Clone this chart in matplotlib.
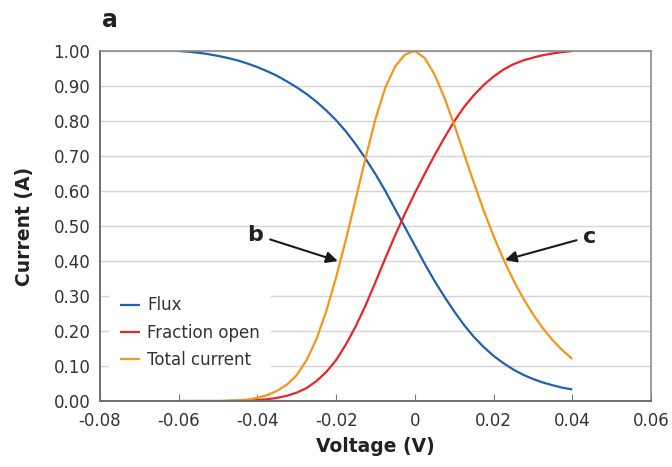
import matplotlib.pyplot as plt

# voltage grid (V) and the three curves
voltage = [-0.0600, -0.0575, -0.0550, -0.0525, -0.0500, -0.0475, -0.0450, -0.0425,
           -0.0400, -0.0375, -0.0350, -0.0325, -0.0300, -0.0275, -0.0250, -0.0225,
           -0.0200, -0.0175, -0.0150, -0.0125, -0.0100, -0.0075, -0.0050, -0.0025,
           0.0000, 0.0025, 0.0050, 0.0075, 0.0100, 0.0125, 0.0150, 0.0175,
           0.0200, 0.0225, 0.0250, 0.0275, 0.0300, 0.0325, 0.0350, 0.0375, 0.0400]

flux = [1.000, 0.998, 0.995, 0.991, 0.986, 0.980, 0.973, 0.964,
        0.954, 0.942, 0.929, 0.913, 0.896, 0.877, 0.855, 0.830,
        0.802, 0.770, 0.733, 0.692, 0.648, 0.600, 0.548, 0.496,
        0.444, 0.392, 0.343, 0.298, 0.256, 0.217, 0.183, 0.154,
        0.129, 0.108, 0.090, 0.075, 0.063, 0.053, 0.045, 0.038, 0.033]

fraction_open = [0.000, 0.000, 0.000, 0.000, 0.000, 0.000, 0.001, 0.001,
                 0.003, 0.005, 0.009, 0.015, 0.024, 0.037, 0.057, 0.083,
                 0.117, 0.162, 0.214, 0.274, 0.340, 0.408, 0.474, 0.536,
                 0.594, 0.649, 0.702, 0.752, 0.799, 0.840, 0.874, 0.903,
                 0.927, 0.947, 0.962, 0.973, 0.981, 0.988, 0.993, 0.997, 1.000]

total_current = [0.000, 0.000, 0.000, 0.000, 0.000, 0.001, 0.002, 0.004,
                 0.009, 0.017, 0.029, 0.047, 0.074, 0.117, 0.177, 0.257,
                 0.354, 0.462, 0.578, 0.696, 0.806, 0.896, 0.956, 0.990,
                 1.000, 0.980, 0.933, 0.867, 0.789, 0.706, 0.623, 0.544,
                 0.471, 0.405, 0.346, 0.294, 0.248, 0.208, 0.174, 0.145, 0.120]

x_ticks = [-0.08, -0.06, -0.04, -0.02, 0, 0.02, 0.04, 0.06]
x_tick_labels = ['-0.08', '-0.06', '-0.04', '-0.02', '0', '0.02', '0.04', '0.06']
y_ticks = [0.0, 0.1, 0.2, 0.3, 0.4, 0.5, 0.6, 0.7, 0.8, 0.9, 1.0]

plt.rcParams['font.family'] = ['DejaVu Sans']

fig = plt.figure(figsize=(6.72, 4.67), dpi=100)
ax = fig.add_axes([0.1488, 0.1413, 0.82, 0.7495])

line_kw = dict(lw=1.6, solid_joinstyle='round', solid_capstyle='butt')
ax.plot(voltage, flux, color='#1f62ae', label='Flux', **line_kw)
ax.plot(voltage, fraction_open, color='#e8252a', label='Fraction open', **line_kw)
ax.plot(voltage, total_current, color='#f7941d', label='Total current', **line_kw)

ax.set_xlim(-0.08, 0.06)
ax.set_ylim(0, 1.0)
ax.set_xticks(x_ticks)
ax.set_xticklabels(x_tick_labels)
ax.set_yticks(y_ticks)
ax.set_yticklabels([f'{v:.2f}' for v in y_ticks])
ax.tick_params(axis='x', direction='in', length=5, color='#777777',
               labelsize=12, labelcolor='#333333', pad=8)
ax.tick_params(axis='y', length=0, labelsize=12, labelcolor='#333333', pad=7)

ax.grid(axis='y', color='#d4d4d4', lw=1)
ax.set_axisbelow(True)
for side in ['left', 'bottom']:
    ax.spines[side].set_color('#6e6e6e')
    ax.spines[side].set_linewidth(1.4)
for side in ['top', 'right']:
    ax.spines[side].set_color('#8a8a8a')
    ax.spines[side].set_linewidth(1.2)

ax.set_xlabel('Voltage (V)', fontsize=13.5, fontweight='bold', color='#222222', labelpad=5)
ax.set_ylabel('Current (A)', fontsize=13.5, fontweight='bold', color='#222222', labelpad=14)

leg = ax.legend(loc='upper left', bbox_to_anchor=(0.016, 0.33), frameon=True,
                fontsize=12, handlelength=1.2, handletextpad=0.45,
                labelspacing=0.55, borderpad=0.65, borderaxespad=0.0)
leg.get_frame().set_facecolor('white')
leg.get_frame().set_edgecolor('none')
leg.get_frame().set_alpha(1)
for t in leg.get_texts():
    t.set_color('#333333')

arrow = dict(arrowstyle='-|>', color='#1a1a1a', lw=1.5, mutation_scale=17,
             shrinkA=3, shrinkB=0)
ax.annotate('b', xy=(-0.0196, 0.40), xytext=(-0.0405, 0.475),
            fontsize=16, fontweight='bold', ha='center', va='center',
            color='#222222', arrowprops=arrow)
ax.annotate('c', xy=(0.0229, 0.403), xytext=(0.0445, 0.47),
            fontsize=16, fontweight='bold', ha='center', va='center',
            color='#222222', arrowprops=arrow)

fig.text(0.163, 0.958, 'a', fontsize=17, fontweight='bold', ha='center', va='center',
         color='#222222')

fig.savefig('out.png', dpi=100)
